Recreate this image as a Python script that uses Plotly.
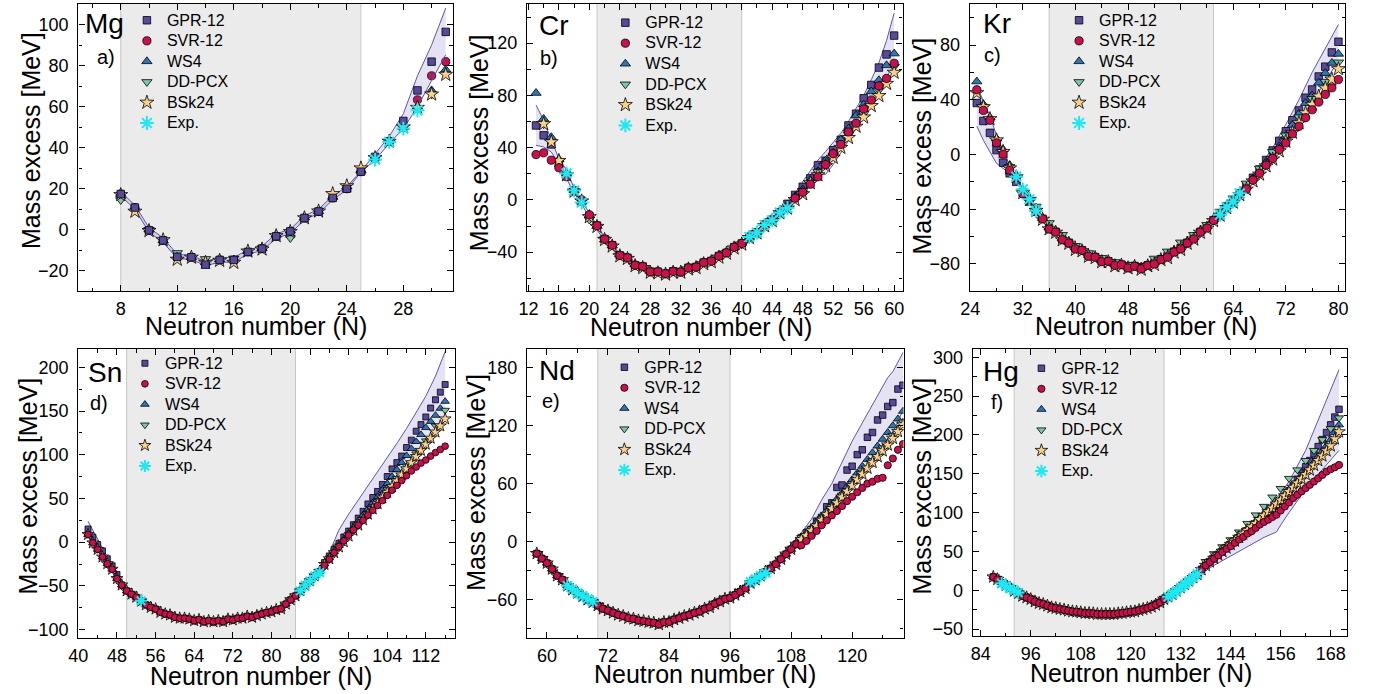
import plotly.graph_objects as go

# ============================ DATA ============================
# ---- a) Mg ----
mg_N = list(range(8, 32))
mg_gpr = [17.4, 10.8, -0.3, -5.2, -13.2, -13.4, -17.0, -14.7, -14.7, -10.8, -9.2, -3.2,
          -0.8, 5.7, 8.9, 15.5, 20.0, 28.3, 35.5, 43.1, 53.0, 67.9, 81.9, 96.4]
mg_svr = [17.4, 10.8, -0.3, -5.2, -13.6, -13.4, -16.5, -14.7, -15.0, -10.8, -9.2, -3.2,
          -0.8, 5.7, 8.9, 15.5, 20.0, 28.3, 35.0, 43.0, 50.0, 63.3, 75.0, 81.9]
mg_ws4 = [17.4, 10.8, 0.0, -5.2, -13.0, -13.4, -16.0, -14.5, -14.5, -10.5, -9.0, -2.5,
          -0.5, 6.0, 9.0, 16.0, 21.0, 29.0, 35.0, 43.5, 50.0, 60.0, 67.9, 78.0]
mg_dd_N = list(range(8, 31, 2))
mg_dd = [14.5, 0.0, -11.3, -14.2, -14.0, -9.0, -4.0, 9.0, 21.0, 35.0, 50.0, 66.0]
mg_bsk = [17.0, 8.9, -0.5, -5.0, -14.5, -13.5, -16.0, -15.0, -16.0, -10.5, -9.5, -3.0,
          -1.0, 5.7, 9.0, 17.5, 21.3, 30.0, 35.0, 43.0, 50.0, 59.5, 66.0, 75.6]
mg_exp_N = [26, 27, 28, 29]
mg_exp = [34.2, 42.8, 49.3, 58.2]
mg_band_N = list(range(8, 32))
mg_band_hi = [18.5, 12.0, 1.0, -4.0, -12.0, -12.5, -15.5, -13.5, -13.5, -9.8, -8.0, -2.0,
              0.3, 6.8, 10.0, 16.5, 21.0, 28.5, 37.0, 45.5, 56.5, 75.0, 90.0, 108.0]
mg_band_lo = [16.5, 10.0, -1.2, -6.2, -14.0, -14.5, -17.5, -15.8, -15.8, -11.8, -10.2, -4.2,
              -1.8, 4.8, 8.0, 14.5, 19.5, 28.0, 34.0, 42.0, 49.3, 59.8, 72.7, 85.3]
mg_train = [8, 25]

# ---- b) Cr ----
cr_N = list(range(13, 61))
cr_svr = [34.7, 36.0, 30.4, 24.6, 17.7, 7.0, 0.0, -11.4, -19.7, -30.0, -34.7, -42.5,
          -44.3, -50.0, -51.0, -55.0, -55.0, -56.5, -54.7, -55.2, -52.0, -51.4, -48.0, -46.8,
          -43.0, -40.5, -36.2, -33.4, -28.4, -24.8, -19.0, -15.2, -9.4, -5.6, 1.3, 5.8,
          12.0, 17.7, 27.0, 35.4, 42.5, 52.0, 58.7, 69.6, 76.5, 87.3, 93.0, 104.6]
cr_gpr = [57.0, 49.4, 42.5, 28.0, 19.0, 7.0, -1.0, -12.5, -19.7, -30.0, -34.7, -42.5,
          -44.3, -50.0, -51.0, -55.0, -55.0, -56.5, -54.7, -55.2, -52.0, -51.4, -48.0, -46.8,
          -43.0, -40.5, -36.2, -33.4, -28.4, -24.8, -19.0, -15.2, -9.4, -3.0, 3.8, 10.0,
          16.5, 26.6, 30.0, 38.0, 46.0, 57.0, 66.0, 77.8, 88.0, 101.3, 111.4, 125.8]
cr_ws4 = [81.8, 62.0, 48.0, 31.0, 20.0, 7.5, -1.5, -12.0, -20.0, -30.5, -35.0, -42.0,
          -44.5, -49.5, -51.5, -54.5, -55.5, -56.0, -55.0, -55.0, -52.5, -51.0, -48.5, -46.5,
          -43.5, -40.0, -36.5, -33.0, -28.5, -24.5, -19.5, -15.0, -9.0, -3.5, 2.5, 8.0,
          15.0, 22.0, 30.0, 36.0, 46.0, 54.4, 64.5, 73.0, 83.0, 91.6, 103.0, 112.0]
cr_dd_N = list(range(14, 61, 2))
cr_dd = [58.0, 29.0, 7.0, -15.0, -30.0, -42.5, -50.0, -55.0, -56.5, -55.2, -51.4, -46.8,
         -40.5, -34.0, -25.0, -15.0, -5.0, 7.0, 21.5, 34.0, 50.0, 66.0, 84.0, 102.0]
cr_bsk_N = list(range(14, 61))
cr_bsk = [58.2, 44.3, 30.0, 19.0, 6.5, -1.0, -13.0, -20.5, -30.5, -35.5, -43.0, -45.0,
          -50.5, -52.0, -55.5, -56.0, -57.0, -55.5, -55.5, -53.0, -52.0, -49.0, -47.5, -44.0,
          -41.0, -37.0, -34.0, -29.0, -25.5, -20.0, -16.0, -10.0, -6.5, 0.0, 4.5, 13.0,
          19.0, 26.0, 32.4, 40.0, 47.6, 56.2, 63.3, 72.0, 79.7, 89.0, 97.5]
cr_exp_N = [17, 18, 19, 41, 42, 43, 44, 45, 46]
cr_exp = [20.3, 7.1, -2.0, -28.4, -25.0, -19.2, -15.6, -9.8, -6.2]
cr_band_N = [13, 14, 15, 16, 17, 18, 19, 20, 22, 24, 26, 28, 30, 32, 34, 36, 38, 40, 42,
             44, 46, 47, 48, 49, 50, 51, 52, 53, 54, 55, 56, 57, 58, 59, 60]
cr_band_hi = [72.7, 61.0, 46.0, 31.6, 23.0, 9.0, 0.5, -10.5, -28.5, -41.0, -48.5, -53.5,
              -55.0, -53.8, -50.0, -45.5, -39.5, -32.5, -23.5, -13.5, -2.0, 5.0, 14.0, 22.0,
              30.5, 37.0, 44.0, 51.0, 60.0, 70.0, 80.0, 92.0, 105.0, 122.0, 143.0]
cr_band_lo = [41.8, 40.5, 36.7, 27.8, 16.5, 5.0, -3.0, -14.0, -31.5, -44.0, -51.5, -56.5,
              -58.0, -56.8, -53.0, -48.5, -42.5, -35.5, -26.5, -16.5, -6.0, 0.0, 6.0, 13.0,
              20.0, 19.5, 27.0, 36.0, 45.0, 55.0, 64.0, 74.0, 84.0, 95.0, 104.0]
cr_train = [21, 40]

# ---- c) Kr ----
kr_N = list(range(25, 81))
kr_svr = [47.3, 32.2, 25.0, 8.5, 0.2, -11.4, -17.0, -28.8, -33.2, -41.7,
          -47.0, -54.5, -56.7, -62.3, -64.7, -69.0, -70.0, -74.4, -75.0, -78.3,
          -78.0, -81.0, -80.5, -82.9, -81.7, -83.6, -81.0, -80.0, -76.8, -75.0,
          -71.3, -69.0, -64.7, -61.8, -56.7, -53.8, -48.2, -44.1, -38.5, -34.4,
          -28.8, -25.2, -18.7, -13.8, -7.8, -2.9, 3.6, 8.4, 15.1, 20.6,
          26.9, 32.7, 38.3, 43.9, 48.7, 54.8]
kr_gpr = [37.6, 24.5, 15.8, 3.2, -6.0, -13.8, -20.0, -28.0, -34.4, -41.5,
          -47.0, -54.0, -56.5, -62.0, -64.5, -68.5, -70.0, -74.0, -75.0, -78.0,
          -78.0, -80.5, -80.5, -82.5, -81.5, -83.0, -81.0, -79.5, -76.5, -74.5,
          -71.0, -68.5, -64.5, -61.0, -56.5, -53.0, -48.0, -43.5, -38.0, -34.0,
          -28.5, -23.0, -17.0, -11.0, -4.0, 3.0, 10.0, 17.0, 25.0, 32.2,
          41.5, 47.5, 57.0, 64.2, 74.6, 82.4]
kr_ws4 = [53.3, 36.6, 27.0, 11.6, 3.6, -7.8, -15.0, -26.0, -32.0, -40.0,
          -46.5, -53.5, -56.0, -61.5, -64.0, -68.0, -69.5, -73.5, -74.5, -77.5,
          -77.5, -80.0, -80.0, -82.0, -81.0, -83.0, -80.5, -79.0, -76.0, -74.0,
          -70.5, -68.0, -64.0, -60.5, -56.0, -52.5, -47.5, -43.0, -37.5, -33.5,
          -28.0, -23.5, -17.5, -12.0, -5.5, -1.0, 6.0, 13.5, 21.5, 29.8,
          37.5, 43.1, 52.4, 59.4, 66.9, 73.5]
kr_dd_N = list(range(26, 81, 2))
kr_dd = [35.0, 10.0, -9.0, -27.0, -38.0, -50.0, -58.7, -66.7, -72.0, -75.5, -78.5, -80.5,
         -81.5, -76.0, -70.8, -64.2, -58.7, -51.4, -41.7, -32.0, -21.1, -10.2, 1.9, 14.0,
         27.3, 40.7, 53.3, 67.4]
kr_bsk = [45.0, 34.7, 26.0, 10.5, 2.0, -10.0, -16.5, -28.0, -33.0, -41.0,
          -47.5, -54.5, -57.0, -62.5, -65.0, -69.5, -70.5, -74.5, -75.5, -78.5,
          -78.5, -81.5, -81.0, -83.0, -82.0, -84.0, -81.5, -80.5, -77.0, -75.5,
          -71.5, -69.5, -65.0, -62.0, -57.0, -54.0, -48.5, -44.5, -39.0, -35.0,
          -29.5, -25.5, -19.5, -14.5, -8.5, -3.5, 2.5, 9.5, 16.0, 23.0,
          30.3, 36.5, 42.5, 48.5, 55.0, 62.5]
kr_exp_N = [31, 32, 33, 34, 62, 63, 64, 65]
kr_exp = [-16.2, -25.5, -32.7, -41.2, -44.0, -38.5, -34.4, -28.4]
kr_band_N = [25, 26, 27, 28, 29, 30, 31, 32, 34, 36, 40, 44, 48, 52, 56, 60, 64, 66, 68,
             70, 72, 74, 76, 78, 80]
kr_band_hi = [50.0, 39.0, 28.0, 14.0, 3.0, -8.0, -16.0, -25.0, -39.0, -52.0, -67.0, -76.5,
              -81.0, -78.0, -67.0, -51.5, -32.5, -21.5, -9.0, 5.0, 22.0, 40.0, 60.0, 78.0, 95.0]
kr_band_lo = [20.6, 10.4, 1.9, -6.5, -10.2, -13.8, -18.2, -27.0, -42.0, -55.0, -70.0, -79.5,
              -84.0, -81.0, -70.0, -55.0, -36.0, -25.5, -14.0, 1.0, 13.0, 26.0, 38.0, 53.0, 68.6]
kr_train = [36, 61]

# ---- d) Sn ----
sn_N = list(range(42, 117))
sn_core = [8.7, -0.8, -8.3, -17.0, -24.6, -31.0, -41.7, -49.0, -55.7,
           -59.5, -63.0, -67.5, -71.6, -74.6, -76.5, -80.3, -82.2, -83.3, -86.0,
           -87.0, -87.0, -88.0, -89.8, -88.6, -91.0, -89.8, -91.0, -89.8, -91.0,
           -88.0, -89.0, -87.0, -87.0, -84.8, -86.0, -84.0, -82.2, -80.6, -79.6,
           -77.3, -76.2, -70.8, -65.9, -61.4, -55.7, -49.2, -44.3, -38.6, -33.5]
sn_gpr_head = [15.0, 5.7, -2.7, -10.0, -19.0, -27.0, -37.0]
sn_gpr_tail = [-23.4, -15.8, -8.2, -1.5, 5.8, 12.6, 20.0, 27.5, 35.3, 43.7, 51.0, 58.0, 66.0,
               75.1, 83.8, 91.0, 98.5, 108.3, 116.7, 126.9, 134.5, 143.2, 153.4, 162.9, 171.6, 180.3]
sn_svr_tail = [-26.5, -19.5, -12.0, -5.0, 1.5, 8.0, 14.0, 19.5, 25.0, 31.0, 36.5, 42.0, 47.5,
               53.5, 59.5, 65.0, 70.5, 76.0, 81.5, 86.0, 90.5, 94.0, 98.5, 102.5, 106.0, 109.8]
sn_ws4_tail = [-25.0, -18.0, -11.0, -4.0, 3.0, 10.0, 17.0, 24.0, 31.0, 38.0, 45.0, 52.0, 59.5,
               67.0, 75.0, 83.0, 91.0, 99.0, 107.0, 115.0, 123.0, 131.0, 138.0, 145.0, 153.0, 161.0]
sn_bsk_tail = [-25.5, -19.0, -12.0, -5.5, 0.5, 7.0, 13.5, 19.5, 25.5, 32.0, 38.0, 44.0, 50.5,
               57.0, 63.5, 70.0, 77.0, 84.0, 91.0, 98.0, 105.0, 112.0, 119.0, 126.0, 133.0, 141.0]
sn_dd_N = list(range(42, 117, 2))
sn_dd_tail = [-18.0, -4.0, 9.0, 21.0, 33.0, 46.0, 60.0, 73.0, 87.0, 101.0, 116.0, 133.0, 151.0]
sn_gpr = sn_gpr_head + sn_core[7:] + sn_gpr_tail
sn_svr = sn_core + sn_svr_tail
sn_ws4 = sn_core + sn_ws4_tail
sn_bsk = sn_core + sn_bsk_tail
sn_dd = sn_core[0::2] + sn_dd_tail
sn_exp_N = [53, 86, 87, 88, 89, 90]
sn_exp = [-67.0, -55.7, -49.2, -44.3, -38.6, -34.8]
sn_band_N = [42, 44, 46, 48, 50, 54, 58, 62, 66, 70, 74, 78, 82, 84, 86, 88, 90, 92, 94, 96,
             98, 100, 102, 104, 106, 108, 110, 112, 114, 116]
sn_band_hi = [24.0, 3.0, -17.0, -36.0, -53.0, -70.0, -80.5, -86.0, -88.5, -88.5, -85.5, -80.5,
              -74.0, -64.0, -53.0, -42.0, -31.0, -12.0, 14.0, 32.0, 48.0, 64.0, 80.0, 97.0,
              113.0, 130.0, 148.0, 167.0, 190.0, 218.0]
sn_band_lo = [8.0, -10.0, -26.0, -43.0, -57.0, -74.0, -84.0, -89.5, -92.5, -92.5, -89.5, -84.5,
              -78.0, -68.0, -58.0, -46.0, -36.0, -21.0, -7.0, 5.0, 17.0, 29.0, 41.0, 54.0,
              67.0, 80.0, 93.0, 107.0, 123.0, 140.0]
sn_train = [50, 85]

# ---- e) Nd ----
nd_N = list(range(58, 131))
nd_core = [-12.6, -17.7, -22.5, -28.7, -35.6, -39.7, -45.9, -50.0, -53.5, -56.9,
           -60.4, -63.1, -66.5, -69.9, -71.7, -74.1, -76.2, -77.5, -79.6, -80.3,
           -82.0, -82.7, -83.7, -84.4, -86.1, -83.7, -83.7, -81.0, -79.6, -77.5,
           -76.2, -74.1, -72.7, -69.9, -68.3, -64.8, -62.4, -59.6, -58.5, -55.5,
           -52.1, -48.7, -43.2, -39.7, -35.6, -31.5, -28.0, -23.6, -18.4, -13.2, -8.1, -2.9]
nd_gpr_tail = [4.0, 9.0, 12.5, 21.0, 25.0, 36.0, 40.0, 56.0, 58.5, 74.0, 78.0, 90.0, 95.0,
               108.0, 113.0, 126.0, 131.0, 140.0, 144.0, 158.0, 162.0]
nd_svr_tail = [-4.0, 0.5, 5.7, 10.8, 16.7, 21.8, 27.0, 31.5, 36.6, 41.8, 46.3, 51.0, 55.5,
               60.0, 62.0, 65.0, 66.0, 79.0, 86.0, 95.0, 101.0]
nd_ws4_tail = [3.0, 8.0, 14.0, 20.0, 26.0, 32.0, 38.0, 44.0, 50.0, 57.0, 64.0, 71.0, 78.0,
               85.0, 92.0, 99.0, 106.0, 113.0, 120.0, 127.0, 135.0]
nd_bsk_tail = [2.0, 6.0, 11.0, 16.0, 22.0, 28.0, 34.0, 40.0, 46.0, 52.0, 58.0, 64.0, 70.0,
               76.0, 82.0, 88.0, 94.0, 100.0, 107.0, 114.0, 121.0]
nd_dd_N = list(range(58, 131, 2))
nd_dd_tail = [4.0, 13.0, 24.0, 36.0, 48.0, 60.0, 72.0, 84.0, 97.0, 110.0, 124.0]
nd_gpr = nd_core + nd_gpr_tail
nd_svr = nd_core + nd_svr_tail
nd_ws4 = nd_core + nd_ws4_tail
nd_bsk = nd_core + nd_bsk_tail
nd_dd = nd_core[0::2] + nd_dd_tail
nd_exp_N = [64, 65, 66, 67, 68, 69, 100, 101, 102, 103]
nd_exp = [-45.9, -49.3, -53.5, -56.2, -59.6, -62.4, -41.8, -39.0, -35.6, -32.8]
nd_band_N = [58, 60, 64, 68, 72, 76, 80, 84, 88, 92, 96, 100, 104, 106, 108, 110, 112, 114,
             116, 118, 120, 122, 124, 126, 127, 128, 130]
nd_band_hi = [-8.0, -20.0, -43.0, -58.0, -70.0, -78.0, -82.0, -82.0, -74.0, -66.0, -57.0, -41.0,
              -25.0, -15.0, -3.0, 9.0, 23.0, 43.0, 60.0, 82.0, 104.0, 123.0, 142.0, 160.0,
              170.0, 176.0, 196.0]
nd_band_lo = [-15.0, -25.0, -48.0, -62.0, -74.0, -82.0, -86.0, -86.0, -78.0, -70.0, -61.0, -45.0,
              -30.0, -20.0, -9.0, 3.0, 12.0, 24.0, 35.0, 47.0, 60.0, 73.0, 86.0, 100.0,
              106.0, 113.0, 136.0]
nd_train = [70, 96]

# ---- f) Hg ----
hg_N = list(range(87, 171))
hg_core = [17.0, 14.0, 9.8, 6.4, 3.4, -0.9, -3.8, -7.3, -9.4, -11.6,
           -14.6, -16.7, -18.0, -20.0, -22.2, -23.1, -24.4, -25.2, -26.5, -27.4,
           -27.8, -28.6, -29.5, -29.5, -29.9, -30.8, -30.8, -30.8, -30.8, -30.8,
           -29.9, -29.5, -28.6, -27.8, -27.4, -25.7, -24.4, -23.1, -21.3, -18.8,
           -15.8, -11.6, -8.5, -5.1, -0.9, 3.4, 7.6, 11.9, 16.2, 20.4]
hg_gpr_tail = [27.0, 32.0, 37.0, 41.5, 46.0, 50.5, 55.0, 59.0, 63.5, 68.0, 72.0, 76.5,
               80.5, 85.0, 89.0, 93.0, 97.0, 102.0, 108.0, 114.0, 121.0, 128.0, 135.0, 143.0,
               151.0, 159.0, 167.0, 176.0, 185.0, 194.0, 203.0, 213.0, 223.0, 233.0]
hg_svr_tail = [25.9, 31.9, 36.2, 40.5, 44.8, 49.1, 53.3, 56.7, 61.0, 65.3, 68.6, 72.9,
               75.9, 80.2, 84.5, 87.9, 90.8, 94.2, 97.2, 102.7, 107.9, 113.0, 118.6, 122.9,
               127.2, 131.5, 135.7, 140.0, 144.2, 148.5, 152.8, 155.8, 158.3, 161.3]
hg_ws4_tail = [28.0, 33.0, 38.0, 43.0, 47.5, 52.0, 57.0, 61.5, 66.0, 70.5, 75.0, 79.5,
               84.0, 88.5, 93.0, 98.0, 103.0, 108.0, 113.0, 118.0, 123.5, 129.0, 134.5, 140.0,
               146.0, 152.0, 158.5, 165.0, 172.0, 179.0, 186.0, 194.0, 203.0, 213.0]
hg_bsk_tail = [26.5, 32.0, 36.5, 41.0, 45.5, 50.0, 54.5, 59.0, 63.5, 68.0, 72.5, 77.0,
               81.5, 86.0, 91.0, 96.0, 101.0, 106.0, 111.0, 116.0, 121.5, 127.0, 132.5, 138.0,
               143.5, 149.0, 155.0, 161.0, 167.0, 173.0, 179.5, 186.0, 195.0, 204.0]
hg_dd_N = list(range(88, 171, 2))
hg_dd_tail = [37.0, 47.0, 56.0, 65.0, 75.0, 86.0, 97.0, 108.0, 120.0, 131.0, 144.0, 155.0,
              167.0, 180.0, 194.0, 208.0, 222.0]
hg_gpr = hg_core + hg_gpr_tail
hg_svr = hg_core + hg_svr_tail
hg_ws4 = hg_core + hg_ws4_tail
hg_bsk = hg_core + hg_bsk_tail
hg_dd = hg_core[1::2] + hg_dd_tail
hg_exp_N = [89, 90, 91, 92, 93, 129, 130, 131, 132, 133, 134, 135, 136]
hg_exp = [9.0, 5.5, 2.5, 0.0, -3.0, -8.5, -5.0, -1.0, 3.4, 7.6, 11.9, 16.2, 21.0]
hg_band_N = [87, 90, 94, 98, 102, 106, 110, 114, 118, 122, 126, 128, 130, 132, 134, 136, 138,
             140, 142, 144, 146, 148, 150, 152, 155, 156, 158, 160, 162, 164, 166, 168, 170]
hg_band_hi = [19.0, 8.0, -5.0, -15.0, -22.0, -26.0, -28.0, -29.5, -28.0, -24.5, -17.0, -10.0,
              -3.0, 5.0, 14.0, 24.0, 35.0, 46.0, 55.0, 64.0, 73.0, 83.0, 93.0, 104.0, 120.0,
              125.0, 140.0, 160.0, 180.0, 206.0, 232.0, 258.0, 284.0]
hg_band_lo = [15.0, 5.0, -9.0, -18.0, -25.0, -29.0, -31.0, -32.0, -31.0, -27.0, -20.0, -13.0,
              -7.0, 2.0, 10.0, 17.0, 25.0, 32.0, 38.0, 45.0, 51.0, 57.0, 63.0, 68.0, 75.0,
              84.0, 100.0, 115.0, 130.0, 143.0, 155.0, 168.0, 180.0]
hg_train = [92, 128]

MODEL_NAMES = ["GPR-12", "SVR-12", "WS4", "DD-PCX", "BSk24", "Exp."]
ELEMENTS = ["Mg", "Cr", "Kr", "Sn", "Nd", "Hg"]
TAGS = ["a)", "b)", "c)", "d)", "e)", "f)"]

panels = [
    {"GPR-12": (mg_N, mg_gpr), "SVR-12": (mg_N, mg_svr), "WS4": (mg_N, mg_ws4),
     "DD-PCX": (mg_dd_N, mg_dd), "BSk24": (mg_N, mg_bsk), "Exp.": (mg_exp_N, mg_exp),
     "band": (mg_band_N, mg_band_lo, mg_band_hi), "train": mg_train},
    {"GPR-12": (cr_N, cr_gpr), "SVR-12": (cr_N, cr_svr), "WS4": (cr_N, cr_ws4),
     "DD-PCX": (cr_dd_N, cr_dd), "BSk24": (cr_bsk_N, cr_bsk), "Exp.": (cr_exp_N, cr_exp),
     "band": (cr_band_N, cr_band_lo, cr_band_hi), "train": cr_train},
    {"GPR-12": (kr_N, kr_gpr), "SVR-12": (kr_N, kr_svr), "WS4": (kr_N, kr_ws4),
     "DD-PCX": (kr_dd_N, kr_dd), "BSk24": (kr_N, kr_bsk), "Exp.": (kr_exp_N, kr_exp),
     "band": (kr_band_N, kr_band_lo, kr_band_hi), "train": kr_train},
    {"GPR-12": (sn_N, sn_gpr), "SVR-12": (sn_N, sn_svr), "WS4": (sn_N, sn_ws4),
     "DD-PCX": (sn_dd_N, sn_dd), "BSk24": (sn_N, sn_bsk), "Exp.": (sn_exp_N, sn_exp),
     "band": (sn_band_N, sn_band_lo, sn_band_hi), "train": sn_train},
    {"GPR-12": (nd_N, nd_gpr), "SVR-12": (nd_N, nd_svr), "WS4": (nd_N, nd_ws4),
     "DD-PCX": (nd_dd_N, nd_dd), "BSk24": (nd_N, nd_bsk), "Exp.": (nd_exp_N, nd_exp),
     "band": (nd_band_N, nd_band_lo, nd_band_hi), "train": nd_train},
    {"GPR-12": (hg_N, hg_gpr), "SVR-12": (hg_N, hg_svr), "WS4": (hg_N, hg_ws4),
     "DD-PCX": (hg_dd_N, hg_dd), "BSk24": (hg_N, hg_bsk), "Exp.": (hg_exp_N, hg_exp),
     "band": (hg_band_N, hg_band_lo, hg_band_hi), "train": hg_train},
]

# ============================ STYLE / LAYOUT ============================
W, H = 1384, 694
FONT = "Liberation Sans, Arial, Helvetica, sans-serif"

STYLE = {
    "GPR-12": dict(symbol="square", color="#574a9e", dsize=0),
    "SVR-12": dict(symbol="circle", color="#c9104c", dsize=0.7),
    "WS4": dict(symbol="triangle-up", color="#2b78b4", dsize=1.5),
    "DD-PCX": dict(symbol="triangle-down", color="#7ec6a4", dsize=1.5),
    "BSk24": dict(symbol="star", color="#fcd088", dsize=3.0),
}
EXP_COLOR = "#1ee8f2"
RANK = {n: i + 1 for i, n in enumerate(MODEL_NAMES)}

BOX = [(69, 447, 3, 292), (522, 901, 3, 292), (969, 1348, 3, 292),
       (69, 449, 350, 641), (522, 902, 350, 641), (972, 1350, 350, 639)]
XR = [[5, 31.5], [11.83, 61.1], [23.95, 81.05], [40, 118], [56.1, 130.1], [82.1, 172]]
YR = [[-30, 110], [-70, 150], [-100, 110], [-110, 221], [-100.5, 199.6], [-59.4, 310.7]]
XD = [(4, 2), (4, 2), (8, 4), (8, 4), (12, 6), (12, 6)]
YD = [(20, 10), (40, 20), (40, 20), (50, 25), (60, 30), (50, 25)]
MS = [7.5, 7.5, 7.5, 6.0, 6.5, 6.5]
LEG = [(118, 4), (601, 6.4), (1059, 4), (116, 349), (600, 353), (1021, 354)]
ELEM_POS = [(74, 23), (532, 25), (980, 22.5), (77, 374), (532, 372), (980, 373)]
TAG_POS = [(86, 56), (533, 57.5), (981, 54.5), (79, 404), (535, 402), (988, 403)]
XT_POS = [(248.5, 327), (698, 328), (1147, 327), (253, 679), (702, 677), (1142, 676)]
YT_POS = [(21, 140), (473, 142.5), (921, 146), (18, 487.5), (471, 484), (921, 488)]

BAND_FILL = "rgba(92, 82, 178, 0.16)"
BAND_LINE = "#5d56aa"

fig = go.Figure()
shapes, annotations = [], []


def px(x):
    return x / W


def py(y):
    return 1 - y / H


for i, p in enumerate(panels):
    k = i + 1
    sfx = "" if k == 1 else str(k)
    xa, ya = "x" + sfx, "y" + sfx
    leg = "legend" + sfx

    def add_band():
        bN, blo, bhi = p["band"]
        fig.add_trace(go.Scatter(x=bN, y=blo, mode="lines", line=dict(color=BAND_LINE, width=1),
                                 xaxis=xa, yaxis=ya, showlegend=False, hoverinfo="skip"))
        fig.add_trace(go.Scatter(x=bN, y=bhi, mode="lines", line=dict(color=BAND_LINE, width=1),
                                 fill="tonexty", fillcolor=BAND_FILL,
                                 xaxis=xa, yaxis=ya, showlegend=False, hoverinfo="skip"))

    def add_model(name):
        xs, ys = p[name]
        label = f'<span style="font-size:16px">{name}</span>'
        if name == "Exp.":
            marker = dict(symbol="asterisk-open", size=MS[i] + 4, color=EXP_COLOR,
                          line=dict(color=EXP_COLOR, width=2))
        else:
            st = STYLE[name]
            marker = dict(symbol=st["symbol"], size=MS[i] + st["dsize"], color=st["color"],
                          line=dict(color="black", width=0.8))
        fig.add_trace(go.Scatter(x=xs, y=ys, mode="markers", name=label, marker=marker,
                                 xaxis=xa, yaxis=ya, legend=leg, legendrank=RANK[name],
                                 showlegend=True))

    if i == 0:
        order = ["SVR-12", "band", "WS4", "DD-PCX", "BSk24", "GPR-12", "Exp."]
    else:
        order = ["band", "GPR-12", "WS4", "DD-PCX", "BSk24", "SVR-12", "Exp."]
    for item in order:
        if item == "band":
            add_band()
        else:
            add_model(item)

    x0, x1, y0, y1 = BOX[i]
    common = dict(showline=True, linecolor="black", linewidth=1.3, mirror="ticks",
                  ticks="inside", ticklen=6, tickwidth=1, tickcolor="black",
                  showgrid=False, zeroline=False,
                  tickfont=dict(family=FONT, size=18, color="black"))
    fig.update_layout({
        "xaxis" + sfx: dict(domain=[px(x0), px(x1)], range=XR[i], anchor=ya,
                            tick0=0, dtick=XD[i][0], ticklabelstandoff=1,
                            minor=dict(ticks="inside", ticklen=3.5, tickwidth=1,
                                       tickcolor="black", dtick=XD[i][1], tick0=0),
                            **common),
        "yaxis" + sfx: dict(domain=[py(y1), py(y0)], range=YR[i], anchor=xa,
                            tick0=0, dtick=YD[i][0], ticklabelstandoff=5,
                            minor=dict(ticks="inside", ticklen=3.5, tickwidth=1,
                                       tickcolor="black", dtick=YD[i][1], tick0=0),
                            **common),
        leg: dict(x=px(LEG[i][0]), y=py(LEG[i][1]), xanchor="left", yanchor="top",
                  traceorder="normal", bgcolor="rgba(0,0,0,0)", borderwidth=0,
                  tracegroupgap=0, font=dict(family=FONT, size=13.5, color="black")),
    })

    t0, t1 = p["train"]
    shapes.append(dict(type="rect", xref=xa, yref=ya + " domain", x0=t0, x1=t1, y0=0, y1=1,
                       fillcolor="#ebebeb", line=dict(width=0), layer="below"))
    for tx in (t0, t1):
        shapes.append(dict(type="line", xref=xa, yref=ya + " domain", x0=tx, x1=tx, y0=0, y1=1,
                           line=dict(color="#c6c6c6", width=1), layer="below"))

    ex, ey = ELEM_POS[i]
    annotations.append(dict(text=ELEMENTS[i], x=px(ex), y=py(ey), xref="paper", yref="paper",
                            xanchor="left", yanchor="middle", showarrow=False,
                            font=dict(family=FONT, size=28, color="black")))
    tx_, ty_ = TAG_POS[i]
    annotations.append(dict(text=TAGS[i], x=px(tx_), y=py(ty_), xref="paper", yref="paper",
                            xanchor="left", yanchor="middle", showarrow=False,
                            font=dict(family=FONT, size=20, color="black")))
    xt, yt = XT_POS[i]
    annotations.append(dict(text="Neutron number (N)", x=px(xt), y=py(yt), xref="paper",
                            yref="paper", xanchor="center", yanchor="middle", showarrow=False,
                            borderpad=0,
                            font=dict(family=FONT, size=25, color="black")))
    yx, yy = YT_POS[i]
    annotations.append(dict(text="Mass excess [MeV]", x=px(yx), y=py(yy), xref="paper",
                            yref="paper", xanchor="center", yanchor="middle", showarrow=False,
                            textangle=-90, borderpad=0,
                            font=dict(family=FONT, size=25, color="black")))

fig.update_layout(width=W, height=H, margin=dict(l=0, r=0, t=0, b=0),
                  paper_bgcolor="white", plot_bgcolor="white",
                  shapes=shapes, annotations=annotations, showlegend=True,
                  font=dict(family=FONT, color="black"))

fig.write_html("out.html")
